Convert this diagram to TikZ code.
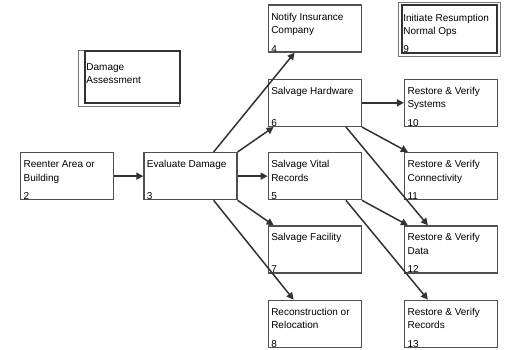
\documentclass[tikz,border=0pt]{standalone}
\usepackage{fontspec}
\setmainfont{Liberation Sans}
\usetikzlibrary{arrows.meta, positioning}
\definecolor{linegray}{RGB}{50,50,50}
\definecolor{framegray}{RGB}{80,80,80}
\definecolor{thingray}{RGB}{120,120,120}
\newcommand{\taskbody}[2]{\parbox[c][47pt][t]{87pt}{\rule{0pt}{15pt}#1\par\vfill #2}}
\newcommand{\notebody}[4]{\parbox[c][#1][t]{#2}{\rule{0pt}{#3}#4}}

\begin{document}
\begin{tikzpicture}[
    node distance=26pt and 29pt,
    task/.style={rectangle, draw=framegray, line width=1.3pt, fill=white, inner xsep=3pt, inner ysep=0pt, font=\fontsize{10}{13.5}\selectfont},
    noteframe/.style={rectangle, draw=thingray, line width=0.8pt, inner sep=0pt},
    notebox/.style={rectangle, draw=linegray, line width=2.2pt, inner xsep=1.5pt, inner ysep=0pt, font=\fontsize{10}{13.5}\selectfont},
    conn/.style={-{Triangle[length=7pt,width=7pt]}, line width=1.5pt, draw=linegray}
]

\useasboundingbox (0pt,0pt) rectangle (507pt,-350pt);

% Main chain
\node[task, anchor=north west] (reenter) at (20pt,-152pt) {\taskbody{Reenter Area or\\Building}{2}};
\node[task, right=29pt of reenter] (evaluate) {\taskbody{Evaluate Damage}{3}};

% Salvage column
\node[task, right=30pt of evaluate] (vital) {\taskbody{Salvage Vital\\Records}{5}};
\node[task, above=25pt of vital] (hardware) {\taskbody{Salvage Hardware}{6}};
\node[task, above=26pt of hardware] (notify) {\taskbody{Notify Insurance\\Company}{4}};
\node[task, below=25pt of vital] (facility) {\taskbody{Salvage Facility}{7}};
\node[task, below=26pt of facility] (recon) {\taskbody{Reconstruction or\\Relocation}{8}};

% Restore column
\node[task, right=42pt of hardware] (systems) {\taskbody{Restore \& Verify\\Systems}{10}};
\node[task, right=42pt of vital] (connect) {\taskbody{Restore \& Verify\\Connectivity}{11}};
\node[task, right=42pt of facility] (data) {\taskbody{Restore \& Verify\\Data}{12}};
\node[task, right=42pt of recon] (records) {\taskbody{Restore \& Verify\\Records}{13}};

% Double framed notes
\node[noteframe, minimum width=101pt, minimum height=56pt, anchor=north west] (damageframe) at (78pt,-50pt) {};
\node[notebox, minimum width=95pt, minimum height=52pt, anchor=north east] (damage) at (181pt,-50pt) {\notebody{52pt}{92pt}{19pt}{Damage\\Assessment}};
\node[noteframe, minimum width=102pt, minimum height=54pt, anchor=north west] (resumeframe) at (398pt,-2pt) {};
\node[notebox, minimum width=95pt, minimum height=48pt, anchor=north east] (resume) at (498pt,-4pt) {\notebody{48pt}{92pt}{16pt}{Initiate Resumption\\Normal Ops\par\vfill 9}};

% Connectors
\draw[conn] (reenter) -- (evaluate);
\draw[conn] ([xshift=-24pt]evaluate.north east) -- ([xshift=27pt]notify.south west);
\draw[conn] (evaluate.north east) -- ([xshift=6pt]hardware.south west);
\draw[conn] (evaluate) -- (vital);
\draw[conn] (evaluate.south east) -- ([xshift=6pt]facility.north west);
\draw[conn] ([xshift=-24pt]evaluate.south east) -- ([xshift=26pt]recon.north west);
\draw[conn] (hardware) -- (systems);
\draw[conn] (hardware.south east) -- ([xshift=4pt]connect.north west);
\draw[conn] ([xshift=-16pt]hardware.south east) -- ([xshift=24pt]data.north west);
\draw[conn] (vital.south east) -- ([xshift=4pt]data.north west);
\draw[conn] ([xshift=-16pt]vital.south east) -- ([xshift=24pt]records.north west);

\end{tikzpicture}
\end{document}
